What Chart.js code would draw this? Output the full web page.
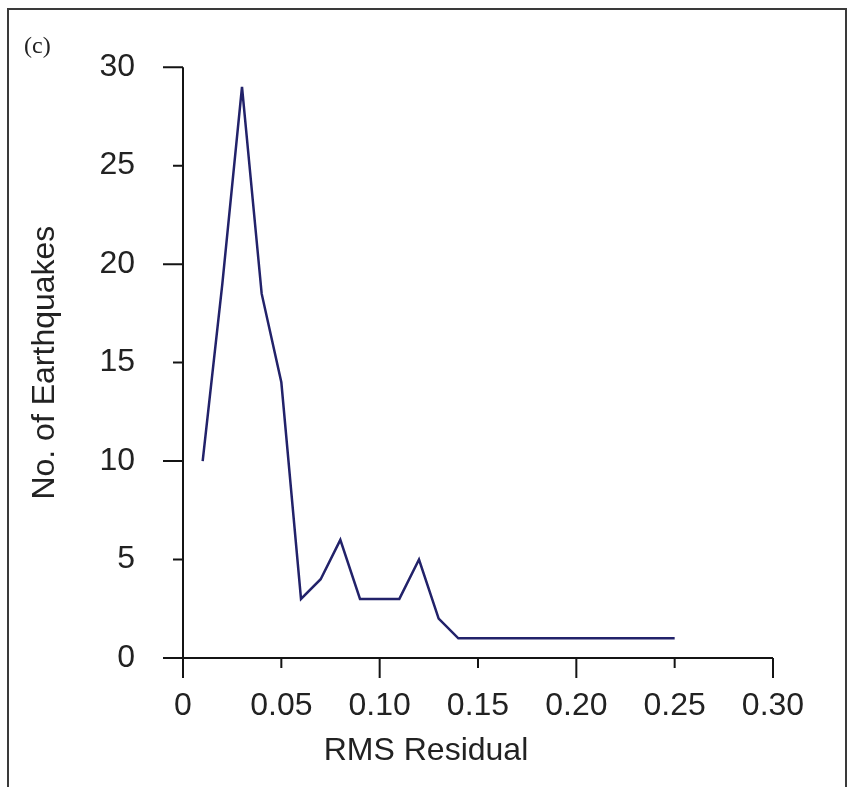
<!DOCTYPE html>
<html>
<head>
<meta charset="utf-8">
<title>RMS Residual</title>
<script src="https://cdn.jsdelivr.net/npm/chart.js@4.4.1/dist/chart.umd.min.js"></script>
<style>
    html, body {
        margin: 0;
        padding: 0;
        background: #ffffff;
    }
    #wrap {
        position: relative;
        width: 851px;
        height: 787px;
        overflow: hidden;
    }
    #frame {
        position: absolute;
        left: 7px;
        top: 8px;
        width: 840px;
        height: 800px;
        border: 2px solid #3a3a3a;
        box-sizing: border-box;
    }
    #rms-chart {
        position: absolute;
        left: 0;
        top: 0;
    }
</style>
</head>
<body>
<div id="wrap">
    <div id="frame"></div>
    <canvas id="rms-chart" width="851" height="787"></canvas>
</div>
<script>
// values
const rmsResidual = [0.01, 0.02, 0.03, 0.04, 0.05, 0.06, 0.07, 0.08, 0.09, 0.10,
                     0.11, 0.12, 0.13, 0.14, 0.15, 0.16, 0.17, 0.18, 0.19, 0.20,
                     0.21, 0.22, 0.23, 0.24, 0.25];
const earthquakeCounts = [10, 19, 29, 18.5, 14, 3, 4, 6, 3, 3,
                          3, 5, 2, 1, 1, 1, 1, 1, 1, 1,
                          1, 1, 1, 1, 1];
const xTicks = [0, 0.05, 0.10, 0.15, 0.20, 0.25, 0.30];
const yTicks = [0, 5, 10, 15, 20, 25, 30];

const fontFamily = "'Liberation Sans', Arial, Helvetica, sans-serif";
const textColor = '#222222';

document.addEventListener('DOMContentLoaded', function() {
    drawChart();
});

// axes drawn by hand so the major/minor ticks can have different lengths
const axesPlugin = {
    id: 'axes',
    afterDraw(chart) {
        const ctx = chart.ctx;
        const xs = chart.scales.x;
        const ys = chart.scales.y;
        const x0 = xs.getPixelForValue(0);
        const y0 = ys.getPixelForValue(0);

        ctx.save();
        ctx.strokeStyle = '#141414';
        ctx.lineWidth = 2;
        ctx.lineCap = 'butt';

        ctx.beginPath();
        ctx.moveTo(x0, ys.getPixelForValue(30));
        ctx.lineTo(x0, y0);
        ctx.moveTo(x0, y0);
        ctx.lineTo(xs.getPixelForValue(0.30), y0);

        yTicks.forEach(v => {
            const len = v % 10 === 0 ? 20 : 10;
            const py = ys.getPixelForValue(v);
            ctx.moveTo(x0, py);
            ctx.lineTo(x0 - len, py);
        });
        xTicks.forEach(v => {
            const major = Math.round(v * 100) % 10 === 0;
            const len = major ? 20 : 10;
            const px = xs.getPixelForValue(v);
            ctx.moveTo(px, y0);
            ctx.lineTo(px, y0 + len);
        });
        ctx.stroke();

        // axis title, sits left of centre in the original
        ctx.fillStyle = textColor;
        ctx.font = '32px ' + fontFamily;
        ctx.textAlign = 'center';
        ctx.textBaseline = 'alphabetic';
        ctx.fillText('RMS Residual', 426, 760);

        // panel label
        ctx.font = "24px 'Liberation Serif', 'Times New Roman', serif";
        ctx.textAlign = 'left';
        ctx.fillText('(c)', 24, 53);
        ctx.restore();
    }
};

function drawChart() {
    const points = rmsResidual.map((r, i) => ({ x: r, y: earthquakeCounts[i] }));

    const ctx = document.getElementById('rms-chart').getContext('2d');
    new Chart(ctx, {
        type: 'line',
        data: {
            datasets: [{
                label: 'No. of Earthquakes',
                data: points,
                borderColor: '#22226a',
                borderWidth: 2.5,
                pointRadius: 0,
                tension: 0,
                fill: false
            }]
        },
        options: {
            responsive: false,
            animation: false,
            devicePixelRatio: 1,
            layout: {
                padding: { left: 22, right: 78, top: 66, bottom: 0 }
            },
            plugins: {
                legend: { display: false },
                tooltip: { enabled: false }
            },
            scales: {
                x: {
                    type: 'linear',
                    min: 0,
                    max: 0.30,
                    afterFit: function(scale) { scale.height = 129; },
                    afterBuildTicks: function(scale) {
                        scale.ticks = xTicks.map(v => ({ value: v }));
                    },
                    grid: { display: false, drawTicks: false },
                    border: { display: false },
                    ticks: {
                        padding: 29,
                        color: textColor,
                        font: { family: fontFamily, size: 32 },
                        maxRotation: 0,
                        autoSkip: false,
                        callback: function(value) {
                            return value === 0 ? '0' : value.toFixed(2);
                        }
                    }
                },
                y: {
                    type: 'linear',
                    min: 0,
                    max: 30,
                    afterFit: function(scale) { scale.width = 161; },
                    afterBuildTicks: function(scale) {
                        scale.ticks = yTicks.map(v => ({ value: v }));
                    },
                    grid: { display: false, drawTicks: false },
                    border: { display: false },
                    ticks: {
                        padding: 48,
                        color: textColor,
                        font: { family: fontFamily, size: 32 }
                    },
                    title: {
                        display: true,
                        text: 'No. of Earthquakes',
                        color: textColor,
                        font: { family: fontFamily, size: 32 },
                        padding: { top: 4, bottom: 0 }
                    }
                }
            }
        },
        plugins: [axesPlugin]
    });
}
</script>
</body>
</html>
